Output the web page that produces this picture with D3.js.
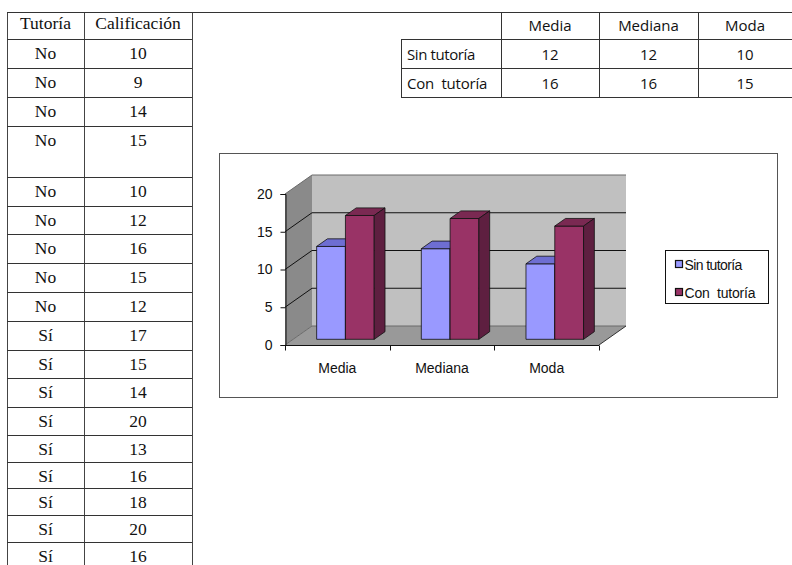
<!DOCTYPE html>
<html lang="es">
<head>
<meta charset="UTF-8">
<title>Tutoría y calificación</title>
<script src="https://cdn.jsdelivr.net/npm/d3@7"></script>
<style>
  body { margin: 0; background: #fff; }
  text { white-space: pre; }
</style>
</head>
<body>
<script>
// datos de la tabla de la izquierda
const tutoria = ["No","No","No","No","No","No","No","No","No","Sí","Sí","Sí","Sí","Sí","Sí","Sí","Sí","Sí"];
const calificacion = [10, 9, 14, 15, 10, 12, 16, 15, 12, 17, 15, 14, 20, 13, 16, 18, 20, 16];

// tabla resumen
const estadisticos = ["Media", "Mediana", "Moda"];
const grupos = ["Sin tutoría", "Con  tutoría"];
const sinTutoriaTabla = [12, 12, 10];
const conTutoriaTabla = [16, 16, 15];

const sinTutoria = [12.3, 12, 10];
const conTutoria = [16.4, 16, 15];
const yTicks = [0, 5, 10, 15, 20];
const colores = {front: ["#9999FF", "#993366"], top: ["#6E6ED2", "#7A2952"], side: ["#5252A8", "#5E1F40"]};

const W = 792, H = 565;
const SERIF = '"Liberation Serif"', SANS = '"Liberation Sans"', CAL = '"Open Sans"';
const svg = d3.select("body").append("svg").attr("width", W).attr("height", H);

// ---------- tabla izquierda ----------
const rowTops = [12, 39, 68, 97, 126, 177, 206, 234, 263, 292, 321, 350, 378, 407, 435, 462, 488, 515, 542];
const colX = [7, 84, 192];
const lt = svg.append("g");

// linea superior larga (comparte ambas tablas)
svg.append("line").attr("x1", 7).attr("x2", W).attr("y1", 12.5).attr("y2", 12.5).attr("stroke", "#333");
colX.forEach(x => lt.append("line").attr("x1", x + 0.5).attr("x2", x + 0.5).attr("y1", 12).attr("y2", H).attr("stroke", "#444"));
rowTops.slice(1).forEach(y => lt.append("line").attr("x1", colX[0]).attr("x2", colX[2]).attr("y1", y + 0.5).attr("y2", y + 0.5).attr("stroke", "#333"));

const filas = tutoria.map((t, i) => ({t, c: calificacion[i], y: rowTops[i + 1]}));
const celdas = [{x: (colX[0] + colX[1]) / 2, y: 29, s: "Tutoría"}, {x: (colX[1] + colX[2]) / 2, y: 29, s: "Calificación"}]
  .concat(filas.flatMap(d => [{x: (colX[0] + colX[1]) / 2, y: d.y + 20, s: d.t}, {x: (colX[1] + colX[2]) / 2, y: d.y + 20, s: d.c}]));
lt.selectAll("text").data(celdas).enter().append("text")
  .attr("x", d => d.x).attr("y", d => d.y).attr("text-anchor", "middle")
  .style("font-family", SERIF).style("font-size", "17.5px").attr("fill", "#111").text(d => d.s);

// ---------- tabla resumen ----------
const tc = [401, 501, 599, 698, 792];
const tr = [12, 39, 68, 97];
const rt = svg.append("g");
[tr[1], tr[2], tr[3]].forEach(y => rt.append("line").attr("x1", tc[0]).attr("x2", W).attr("y1", y + 0.5).attr("y2", y + 0.5).attr("stroke", "#333"));
rt.append("line").attr("x1", tc[0] + 0.5).attr("x2", tc[0] + 0.5).attr("y1", tr[1]).attr("y2", tr[3]).attr("stroke", "#333");
tc.slice(1, 4).forEach(x => rt.append("line").attr("x1", x + 0.5).attr("x2", x + 0.5).attr("y1", tr[0]).attr("y2", tr[3]).attr("stroke", "#333"));
const rtText = (xx, yy, s, anchor, ls) => rt.append("text").attr("x", xx).attr("y", yy).attr("text-anchor", anchor)
  .style("font-family", CAL).style("font-size", "15px").style("letter-spacing", (ls || 0) + "px").attr("fill", "#111").text(s);
estadisticos.forEach((e, j) => {
  const cx = (tc[j + 1] + tc[j + 2]) / 2;
  rtText(cx, 31, e, "middle");
  rtText(cx, 60, sinTutoriaTabla[j], "middle");
  rtText(cx, 89, conTutoriaTabla[j], "middle");
});
rtText(407, 60, "Sin tutoría", "start", -0.4);
rtText(407, 89, "Con  tutoría", "start", -0.2);

// ---------- grafico 3D ----------
svg.append("rect").attr("x", 219.5).attr("y", 153.5).attr("width", 558).attr("height", 244)
  .attr("fill", "#fff").attr("stroke", "#555");

const ch = svg.append("g");
const x = d3.scaleBand().domain(estadisticos).range([285, 599]).paddingInner(0.45).paddingOuter(0.225);
const xs = d3.scaleBand().domain([0, 1]).range([0, x.bandwidth()]);
const y = d3.scaleLinear().domain([0, 20]).range([345, 194]);
const DX = 27, DY = -19;   // desplazamiento de profundidad
const p = (px, py, d) => [px + d * DX, py + d * DY];
const poly = pts => "M" + pts.map(q => q.join(",")).join("L") + "Z";

const x0 = x.range()[0], x1 = x.range()[1];
// paredes y suelo
ch.append("path").attr("d", poly([p(x0, y(20), 1), p(x1, y(20), 1), p(x1, y(0), 1), p(x0, y(0), 1)])).attr("fill", "#C0C0C0");
ch.append("path").attr("d", poly([p(x0, y(20), 0), p(x0, y(20), 1), p(x0, y(0), 1), p(x0, y(0), 0)])).attr("fill", "#8A8A8A");
ch.append("path").attr("d", poly([p(x0, y(0), 0), p(x0, y(0), 1), p(x1, y(0), 1), p(x1, y(0), 0)])).attr("fill", "#999999");

// lineas de division
yTicks.forEach(v => {
  const a = p(x0, y(v), 0), b = p(x0, y(v), 1), c = p(x1, y(v), 1);
  ch.append("path").attr("d", `M${a}L${b}L${c}`).attr("fill", "none")
    .attr("stroke", v === 0 || v === 20 ? "#6a6a6a" : "#111").attr("stroke-width", 1);
});
ch.append("path").attr("d", `M${p(x1, y(0), 0)}L${p(x1, y(0), 1)}`).attr("stroke", "#333");

// barras
const series = [sinTutoria, conTutoria];
series.forEach((vals, s) => {
  estadisticos.forEach((cat, i) => {
    const bx0 = x(cat) + xs(s), bx1 = bx0 + xs.bandwidth();
    const v = vals[i], d0 = 0.3, d1 = 0.7;
    const g = ch.append("g").attr("stroke", "#111").attr("stroke-width", 0.8).attr("stroke-linejoin", "round");
    g.append("path").attr("d", poly([p(bx0, y(0), d0), p(bx1, y(0), d0), p(bx1, y(v), d0), p(bx0, y(v), d0)])).attr("fill", colores.front[s]);
    g.append("path").attr("d", poly([p(bx0, y(v), d0), p(bx1, y(v), d0), p(bx1, y(v), d1), p(bx0, y(v), d1)])).attr("fill", colores.top[s]);
    g.append("path").attr("d", poly([p(bx1, y(0), d0), p(bx1, y(0), d1), p(bx1, y(v), d1), p(bx1, y(v), d0)])).attr("fill", colores.side[s]);
  });
});

// ejes
const yAxis = ch.append("g").attr("transform", `translate(${x0 + 0.5},0)`)
  .call(d3.axisLeft(y).tickValues(yTicks).tickSize(5).tickPadding(8));
const xAxis = ch.append("g").attr("transform", `translate(0,${y(0) + 0.5})`)
  .call(d3.axisBottom(x).tickSize(0).tickPadding(18));
[yAxis, xAxis].forEach(a => {
  a.selectAll("path, line").attr("stroke", "#111");
  a.selectAll("text").attr("fill", "#111").style("font-family", SANS).style("font-size", "14px");
});
xAxis.select(".domain").attr("d", `M${x0},0H${x1}`);
xAxis.selectAll(".bound").data([x0, ...estadisticos.map(c => x(c) + x.bandwidth() + x.step() * 0.225)].slice(0, 4))
  .enter().append("line").attr("class", "bound")
  .attr("x1", d => Math.round(d) + 0.5).attr("x2", d => Math.round(d) + 0.5).attr("y1", 0).attr("y2", 5).attr("stroke", "#111");

// leyenda
const lg = ch.append("g").attr("transform", "translate(665.5,250.5)");
lg.append("rect").attr("width", 103).attr("height", 53).attr("fill", "#fff").attr("stroke", "#111");
grupos.forEach((gname, s) => {
  lg.append("rect").attr("x", 10).attr("y", 10 + s * 28).attr("width", 7).attr("height", 7)
    .attr("fill", colores.front[s]).attr("stroke", "#111").attr("stroke-width", 1.2);
  lg.append("text").attr("x", 19).attr("y", 19 + s * 28).attr("fill", "#111")
    .style("font-family", SANS).style("font-size", "14px")
    .style("letter-spacing", (s === 0 ? -0.6 : -0.2) + "px").text(gname);
});
</script>
</body>
</html>
